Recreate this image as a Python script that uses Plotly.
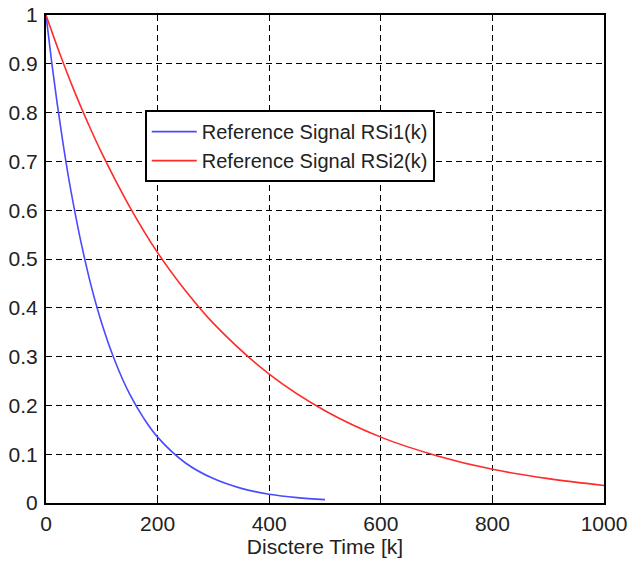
import plotly.graph_objects as go

# Values
k_rsi1 = [0, 10, 20, 30, 40, 50, 60, 80, 100, 125, 150, 175, 200, 250, 300, 350, 400, 450, 500]
rsi1 = [1.0, 0.905, 0.819, 0.741, 0.670, 0.607, 0.549, 0.449, 0.368, 0.287, 0.223, 0.174,
        0.135, 0.082, 0.050, 0.030, 0.018, 0.011, 0.007]

k_rsi2 = [0, 25, 50, 75, 100, 150, 200, 250, 300, 400, 500, 600, 700, 800, 900, 1000]
rsi2 = [1.0, 0.920, 0.846, 0.779, 0.717, 0.607, 0.513, 0.435, 0.368, 0.264, 0.189,
        0.135, 0.097, 0.069, 0.050, 0.036]

x_ticks = [0, 200, 400, 600, 800, 1000]
y_ticks = [0, 0.1, 0.2, 0.3, 0.4, 0.5, 0.6, 0.7, 0.8, 0.9, 1]
y_tick_labels = ["0", "0.1", "0.2", "0.3", "0.4", "0.5", "0.6", "0.7", "0.8", "0.9", "1"]

FONT = "Liberation Sans, Arial"
TXT = "#222"

fig = go.Figure()
fig.add_trace(go.Scatter(x=k_rsi1, y=rsi1, mode="lines", name="Reference Signal RSi1(k)",
                         line=dict(color="#4a4aff", width=1.6, shape="spline")))
fig.add_trace(go.Scatter(x=k_rsi2, y=rsi2, mode="lines", name="Reference Signal RSi2(k)",
                         line=dict(color="#ff2a2a", width=1.6, shape="spline")))

axis_common = dict(showline=True, linecolor="black", linewidth=2, mirror=True,
                   showgrid=True, gridcolor="black", gridwidth=1, griddash="6px,4px",
                   ticks="inside", ticklen=5, tickcolor="black", zeroline=False,
                   automargin=False, ticklabeloverflow="allow",
                   tickfont=dict(family=FONT, size=21, color=TXT))

fig.update_layout(
    width=629, height=569,
    margin=dict(l=46, r=25, t=15, b=66),
    paper_bgcolor="white", plot_bgcolor="white",
    font=dict(family=FONT, size=21, color=TXT),
    xaxis=dict(range=[0, 1000], tickvals=x_ticks, ticklabelstandoff=1,
               title=dict(text="Disctere Time [k]", standoff=0,
                          font=dict(family=FONT, size=21, color=TXT)),
               **axis_common),
    yaxis=dict(range=[0, 1], tickvals=y_ticks, ticktext=y_tick_labels,
               ticklabelstandoff=2, **axis_common),
    legend=dict(x=0.177, y=0.805, xanchor="left", yanchor="top",
                bgcolor="white", bordercolor="black", borderwidth=2,
                font=dict(family=FONT, size=20, color=TXT),
                tracegroupgap=0, itemwidth=45),
    showlegend=True,
)

fig.write_html("out.html",
               config={"displayModeBar": False},
               post_script="document.body.style.margin='0';document.body.style.overflow='hidden';")
